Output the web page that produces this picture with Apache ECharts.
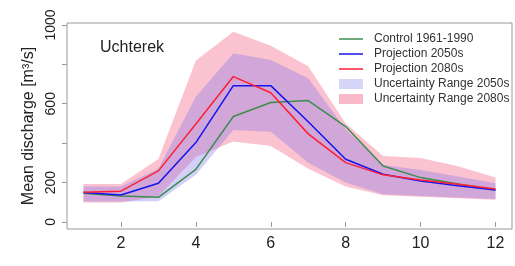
<!DOCTYPE html>
<html>
<head>
<meta charset="utf-8">
<script src="https://cdn.jsdelivr.net/npm/echarts@6/dist/echarts.min.js"></script>
<style>
  html, body { margin: 0; padding: 0; background: #fff; }
  #chart { width: 515px; height: 266px; }
</style>
</head>
<body>
<div id="chart"></div>
<script>
// months of the year
const months = [1, 2, 3, 4, 5, 6, 7, 8, 9, 10, 11, 12];

// mean discharge [m3/s]
const control = [146, 132, 125, 267, 535, 606, 616, 484, 284, 225, 193, 162];
const proj2050 = [149, 137, 196, 403, 692, 692, 509, 318, 242, 208, 184, 162];
const proj2080 = [151, 156, 259, 497, 738, 656, 447, 301, 239, 213, 191, 167];

// uncertainty ranges
const high2080 = [192, 192, 320, 820, 966, 895, 790, 500, 335, 325, 282, 225];
const low2080 = [98, 98, 130, 330, 408, 385, 270, 180, 135, 128, 120, 112];
const high2050 = [180, 180, 270, 636, 856, 822, 729, 470, 289, 264, 230, 196];
const low2050 = [104, 104, 105, 240, 467, 458, 300, 200, 140, 132, 124, 116];

// axis ticks
const xTicks = [2, 4, 6, 8, 10, 12];
const yTicks = [0, 200, 400, 600, 800, 1000];
const yLabels = [0, 200, 600, 1000];

const FONT = 'Liberation Sans, Arial, sans-serif';
const GREEN = '#3d8c4f';
const BLUE = '#1414ee';
const RED = '#ff1f35';
const PINK_BAND = 'rgba(241,55,98,0.3)';
const BLUE_BAND = 'rgba(120,110,235,0.33)';
const LINE_ICON = 'path://M0,0L24,0L24,1.5L0,1.5Z';

const pairs = (ys) => months.map((m, i) => [m, ys[i]]);

function band(name, low, high, color) {
    return {
        name: name,
        type: 'custom',
        silent: true,
        itemStyle: { color: color },
        data: [[months[0], low[0]]],
        renderItem: function (params, api) {
            const pts = [];
            for (let i = 0; i < months.length; i++) pts.push(api.coord([months[i], high[i]]));
            for (let i = months.length - 1; i >= 0; i--) pts.push(api.coord([months[i], low[i]]));
            return { type: 'polygon', shape: { points: pts }, style: { fill: color } };
        }
    };
}

function line(name, ys, color) {
    return {
        name: name,
        type: 'line',
        data: pairs(ys),
        symbol: 'none',
        silent: true,
        lineStyle: { color: color, width: 1.5 },
        itemStyle: { color: color }
    };
}

const chart = echarts.init(document.getElementById('chart'));
chart.setOption({
    animation: false,
    backgroundColor: '#fff',
    title: {
        text: 'Uchterek',
        left: 95,
        top: 35,
        textStyle: { fontFamily: FONT, fontSize: 16, fontWeight: 'normal', color: '#222' }
    },
    legend: {
        orient: 'vertical',
        left: 334,
        top: 27,
        itemWidth: 24,
        itemHeight: 10,
        itemGap: 1,
        symbolKeepAspect: true,
        textStyle: { fontFamily: FONT, fontSize: 12, color: '#333', lineHeight: 14, padding: [0, 0, 0, 6] },
        data: [
            { name: 'Control 1961-1990', icon: LINE_ICON, itemStyle: { color: GREEN } },
            { name: 'Projection 2050s', icon: LINE_ICON, itemStyle: { color: BLUE } },
            { name: 'Projection 2080s', icon: LINE_ICON, itemStyle: { color: RED } },
            { name: 'Uncertainty Range 2050s', icon: 'rect', itemStyle: { color: 'rgba(138,138,238,0.35)' } },
            { name: 'Uncertainty Range 2080s', icon: 'rect', itemStyle: { color: 'rgba(241,55,98,0.35)' } }
        ]
    },
    grid: {
        left: 67, right: 3, top: 23, bottom: 37,
        show: true, borderColor: '#999', borderWidth: 1, backgroundColor: 'transparent'
    },
    xAxis: {
        type: 'value',
        min: 0.56,
        max: 12.44,
        splitLine: { show: false },
        axisLine: { show: false },
        axisTick: { show: true, length: 5, lineStyle: { color: '#999' }, customValues: xTicks },
        axisLabel: { customValues: xTicks, margin: 7, fontFamily: FONT, fontSize: 16, color: '#222' }
    },
    yAxis: {
        type: 'value',
        min: -36,
        max: 1010,
        name: 'Mean discharge [m³/s]',
        nameLocation: 'middle',
        nameGap: 25,
        nameTextStyle: { fontFamily: FONT, fontSize: 16, color: '#222' },
        splitLine: { show: false },
        axisLine: { show: false },
        axisTick: { show: true, length: 5, lineStyle: { color: '#999' }, customValues: yTicks },
        axisLabel: {
            customValues: yLabels, rotate: 90, margin: 9,
            fontFamily: FONT, fontSize: 14, color: '#222',
            formatter: (v) => String(v)
        }
    },
    series: [
        band('Uncertainty Range 2080s', low2080, high2080, PINK_BAND),
        band('Uncertainty Range 2050s', low2050, high2050, BLUE_BAND),
        line('Control 1961-1990', control, GREEN),
        line('Projection 2050s', proj2050, BLUE),
        line('Projection 2080s', proj2080, RED)
    ]
});
</script>
</body>
</html>
